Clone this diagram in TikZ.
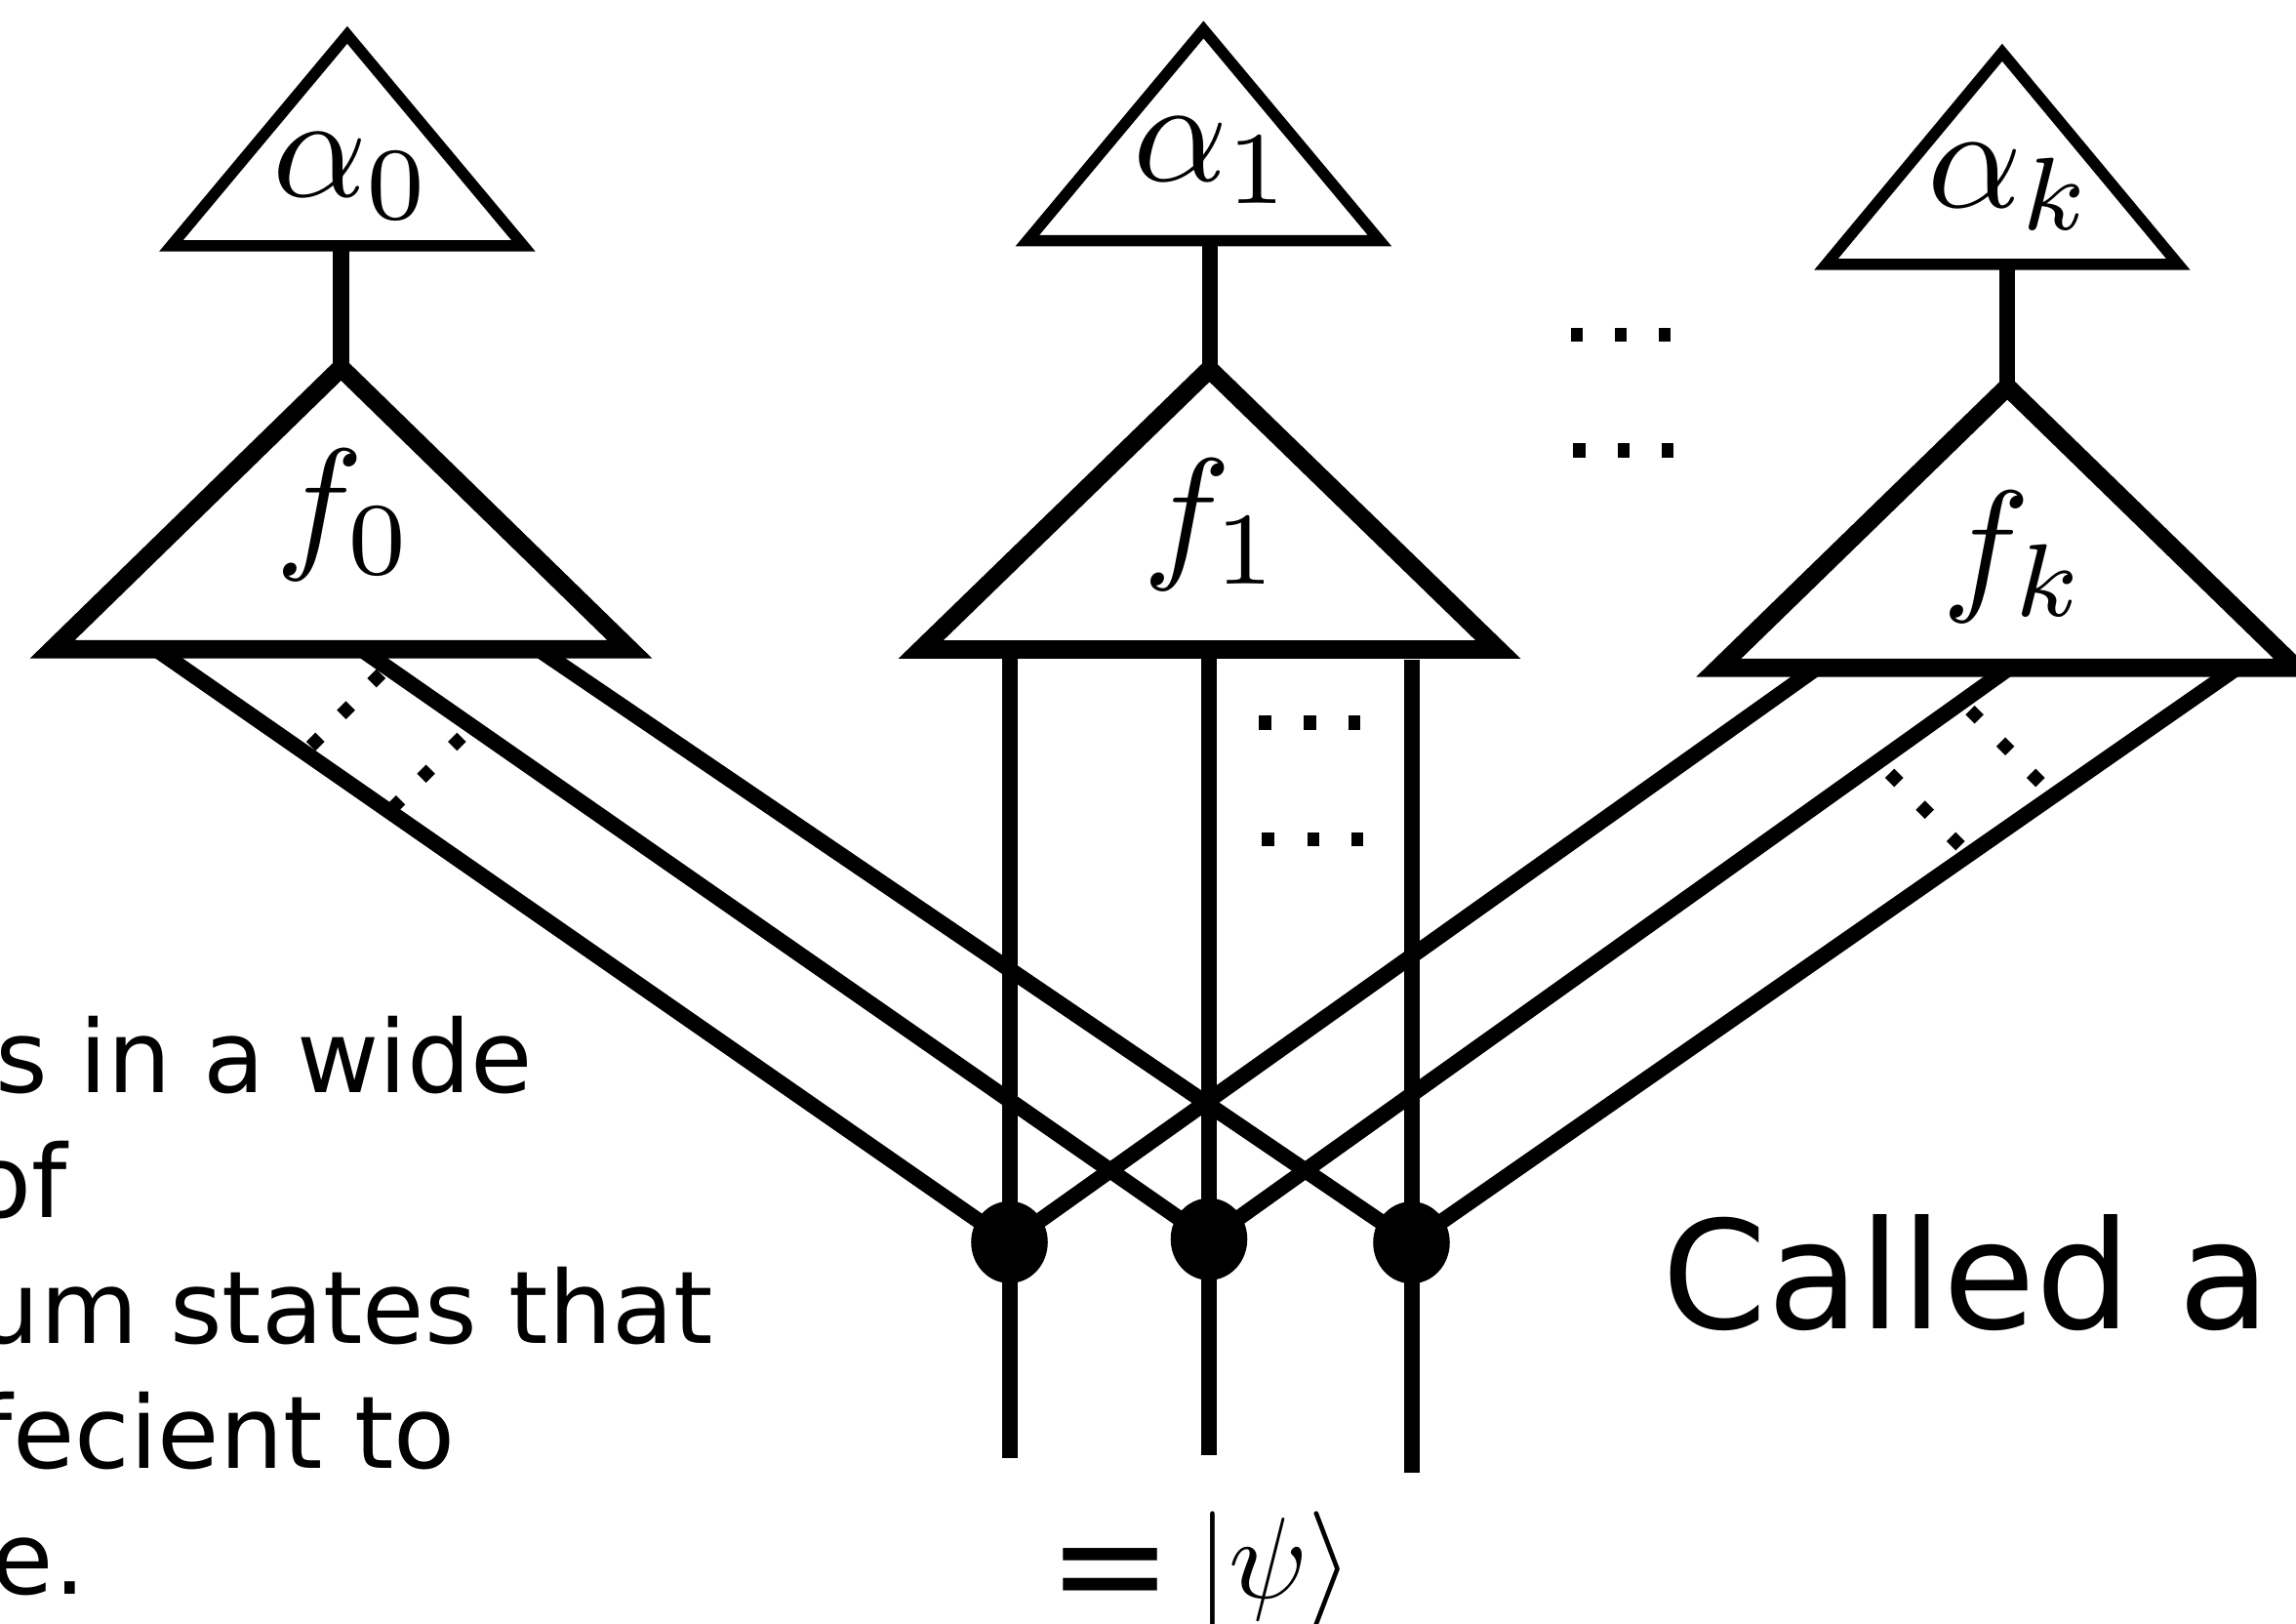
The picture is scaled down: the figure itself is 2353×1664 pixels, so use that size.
\documentclass[tikz,border=0pt]{standalone}
\usepackage{fontspec}
\newfontfamily\dejavu{DejaVu Sans}
\usetikzlibrary{shapes.geometric}

\tikzset{
  atri/.style={draw=black, line width=0.115cm, line join=miter},
  ftri/.style={draw=black, line width=0.187cm, line join=miter},
  wire/.style={draw=black, line width=0.16cm},
  leg/.style={draw=black, line width=0.16cm},
  vertex/.style={ellipse, fill=black, inner sep=0pt, minimum width=0.785cm, minimum height=0.84cm},
  lbl/.style={inner sep=0pt, anchor=base, scale=4.296},
  prose/.style={inner sep=0pt, anchor=base west, font=\dejavu\fontsize{29.3}{35}\selectfont},
  bigprose/.style={inner sep=0pt, anchor=base west, font=\dejavu\fontsize{43.8}{52}\selectfont},
}

\begin{document}
\begin{tikzpicture}[x=0.01cm, y=-0.01cm]
\useasboundingbox (0,0) rectangle (2353,1664);
\clip (0,0) rectangle (2353,1664);

% tensor vertices on the three physical legs
\node[vertex] (v1) at (1034.5,1272.8) {};
\node[vertex] (v2) at (1239,1269.7) {};
\node[vertex] (v3) at (1446.5,1273.2) {};

% attachment points on the base of the f-triangles
\coordinate (la) at (160,665.35);
\coordinate (lb) at (370.2,665.35);
\coordinate (lc) at (551.8,665.35);
\coordinate (ld) at (1862.2,684.2);
\coordinate (le) at (2059.5,684.2);
\coordinate (lf) at (2292.7,684.2);

% crossing legs
\draw[leg] (la) -- (v1.center);
\draw[leg] (lb) -- (v2.center);
\draw[leg] (lc) -- (v3.center);
\draw[leg] (ld) -- (v1.center);
\draw[leg] (le) -- (v2.center);
\draw[leg] (lf) -- (v3.center);

% vertical legs below f_1
\coordinate (w1t) at (1034.5,665.6);
\coordinate (w2t) at (1239,665.6);
\coordinate (w3t) at (1446.5,676);
\coordinate (w1b) at (1034.5,1494);
\coordinate (w2b) at (1239,1490.7);
\coordinate (w3b) at (1446.5,1508.8);
\draw[wire] (w1t) -- (w1b);
\draw[wire] (w2t) -- (w2b);
\draw[wire] (w3t) -- (w3b);

% stems between alpha and f triangles
\coordinate (s0t) at (349.5,251.9);
\coordinate (s0b) at (349.5,376.9);
\coordinate (s1t) at (1240,246.6);
\coordinate (s1b) at (1240,378.3);
\coordinate (skt) at (2057,271);
\coordinate (skb) at (2057,396.5);
\draw[wire] (s0t) -- (s0b);
\draw[wire] (s1t) -- (s1b);
\draw[wire] (skt) -- (skb);

% alpha triangles
\draw[atri] (355.9,35.8) -- (536.4,251.9) -- (175.4,251.9) -- cycle;
\draw[atri] (1233.4,30.4) -- (1413.9,246.6) -- (1052.9,246.6) -- cycle;
\draw[atri] (2051.9,53.8) -- (2232.4,271) -- (1871.4,271) -- cycle;

% f triangles
\draw[ftri] (349.5,376.9) -- (645.4,665.35) -- (53.6,665.35) -- cycle;
\draw[ftri] (1239.5,378.3) -- (1535.4,665.6) -- (943.6,665.6) -- cycle;
\draw[ftri] (2057.2,396.5) -- (2353.1,684.2) -- (1761.3,684.2) -- cycle;

% ellipsis dots
\foreach \x/\y in {1615.7/343.3, 1660.7/343.3, 1706/343.3,
                   1618.3/461.7, 1663.7/461.7, 1709/461.7,
                   1296.5/740.5, 1342.5/740.5, 1388/740.5,
                   1299.5/860, 1346/860, 1391/860}
  \fill (\x-6.2,\y-7.2) rectangle (\x+6.2,\y+7.2);
\foreach \x/\y in {385.7/695, 354.5/727.7, 323.2/760,
                   468.3/760, 436.6/792.7, 405.9/824.3,
                   2023.6/732.3, 2055.1/764.7, 2086.2/797,
                   1941.2/797, 1972.7/829.7, 2004.2/862}
  \fill (\x,\y-9.3) -- (\x+9.3,\y) -- (\x,\y+9.3) -- (\x-9.3,\y) -- cycle;

% labels
\node[lbl] (la0) at (361.5,202) {$\alpha_0$};
\node[lbl] (la1) at (1243.5,185.5) {$\alpha_1$};
\node[lbl] (lak) at (2060.5,213) {$\alpha_k$};
\node[lbl] (lf0) at (353.5,566) {$f_0$};
\node[lbl] (lf1) at (1242.5,576) {$f_1$};
\node[lbl] (lfk) at (2065,609) {$f_k$};

% text
\node[prose] (p1) at (-5.1,1119.5) {s in a wide};
\node[prose] (p2) at (-31.7,1247.5) {of};
\node[prose] (p3) at (-24.8,1376) {um states that};
\node[prose] (p4) at (-23.9,1504.5) {fecient to};
\node[prose] (p5) at (-8.8,1633) {e.};
\node[bigprose] (called) at (1703,1361) {Called a};
\node[bigprose] (eq) at (1072.5,1656.4) {=};
\node[anchor=base west, inner sep=0pt, scale=3.36] (ket) at (1224.6,1637) {$|\psi\rangle$};
\end{tikzpicture}
\end{document}
